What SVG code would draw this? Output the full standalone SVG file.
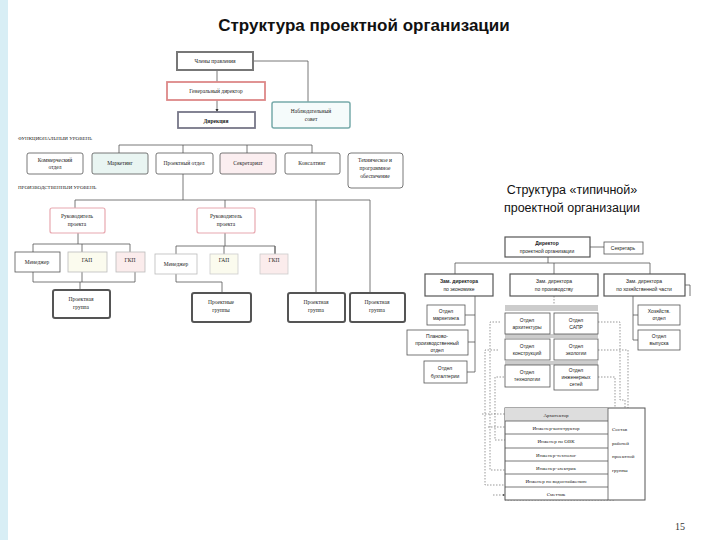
<svg xmlns="http://www.w3.org/2000/svg" width="720" height="540" viewBox="0 0 720 540">
<defs>
<style>
.t{font-family:"Liberation Serif",serif;font-size:5.5px;fill:#222;text-anchor:middle}
.s{font-family:"Liberation Sans",sans-serif;font-size:5px;fill:#222;text-anchor:middle}
.b{fill:#fff;stroke:#555;stroke-width:0.8}
.bt{fill:#fff;stroke:#555;stroke-width:2}
.l{fill:none;stroke:#555;stroke-width:0.8}
.d{fill:none;stroke:#555;stroke-width:0.6;stroke-dasharray:1.5 1.5}
.h{font-family:"Liberation Serif",serif;font-size:5px;fill:#222}
</style>
<marker id="a" viewBox="0 0 6 6" refX="6" refY="3" markerWidth="4" markerHeight="4" orient="auto"><path d="M0,0L6,3L0,6z" fill="#333"/></marker>
</defs>
<rect width="720" height="540" fill="#fff"/>
<rect x="0" y="0" width="8" height="540" fill="#d8eef5"/>
<text x="364" y="31" font-family="Liberation Sans,sans-serif" font-size="17" font-weight="bold" text-anchor="middle" fill="#111">Структура проектной организации</text>
<text x="572" y="194" font-family="Liberation Sans,sans-serif" font-size="12.5" text-anchor="middle" fill="#111">Структура «типичной»</text>
<text x="572" y="212" font-family="Liberation Sans,sans-serif" font-size="12.5" text-anchor="middle" fill="#111">проектной организации</text>
<text x="680" y="530" font-family="Liberation Serif,serif" font-size="10" text-anchor="middle" fill="#333">15</text>
<text class="h" x="18" y="140">ФУНКЦИОНАЛЬНЫЙ УРОВЕНЬ</text>
<text class="h" x="18" y="189">ПРОИЗВОДСТВЕННЫЙ УРОВЕНЬ</text>
<g id="connectors">
<path class="l" d="M217,70V82M217,100V112" marker-end="url(#a)"/>
<path class="l" d="M253,61H308V102"/>
<path class="l" d="M119,153V145H312V153M183,145V153M247,145V153M183,174V200M75,208V200H370V293M225,200V208M316,200V293"/>
<path class="l" d="M78,233V244M33,252V244H130V252M82,244V252M33,272V282H135V272M82,272V282M80,282V290"/>
<path class="l" d="M225,233V246M176,254V246H275V254M224,246V254M176,274V282H222V294M275,246V254"/>
<path class="l" d="M590,247H604M548,257V263M455,274V263H650V274M554,263V274"/>
<path class="l" d="M493,285H475V372H467M475,315H465M475,342H468"/>
<path class="l" d="M685,285H690V296M633,296V340H638M633,315H638"/>
<path class="d" d="M554,296V305M500,322H490V470H505M498,350H485V485H505M504,377H495V440H505M598,322H620V400H625V408M598,350H628V455M598,377H615V500H505"/>
<path class="d" d="M482,414H505M488,427H505M493,495H505" marker-end="url(#a)"/>
</g>
<g id="n1"><rect class="bt" x="177" y="52" width="76" height="18" style="stroke:#777"/><text class="t" x="215" y="63">Члены правления</text></g>
<g id="n2"><rect class="b" x="167" y="82" width="98" height="18" style="stroke:#d88;stroke-width:1.8"/><text class="t" x="216" y="93">Генеральный директор</text></g>
<g id="n3"><rect class="b" x="178" y="112" width="77" height="16" style="stroke:#778;stroke-width:1.8"/><text class="t" x="216" y="123" font-weight="bold">Дирекция</text></g>
<g id="n4"><rect class="b" x="272" y="102" width="78" height="26" rx="2" style="stroke:#7aa;stroke-width:1.5;fill:#f5fbfb"/><text class="t" x="311" y="113">Наблюдательный</text><text class="t" x="311" y="121">совет</text></g>
<g id="f1"><rect class="b" x="27" y="153" width="56" height="21" rx="2"/><text class="t" x="55" y="162">Коммерческий</text><text class="t" x="55" y="169">отдел</text></g>
<g id="f2"><rect class="b" x="92" y="153" width="56" height="21" rx="2" style="fill:#e9f5f2"/><text class="t" x="120" y="165">Маркетинг</text></g>
<g id="f3"><rect class="b" x="156" y="153" width="57" height="21" rx="2"/><text class="t" x="184" y="165">Проектный отдел</text></g>
<g id="f4"><rect class="b" x="220" y="153" width="56" height="21" rx="2" style="fill:#fbeef0"/><text class="t" x="248" y="165">Секретариат</text></g>
<g id="f5"><rect class="b" x="285" y="153" width="55" height="21" rx="2"/><text class="t" x="312" y="165">Консалтинг</text></g>
<g id="f6"><rect class="b" x="348" y="153" width="55" height="35" rx="3"/><text class="t" x="375" y="162">Техническое и</text><text class="t" x="375" y="170">программное</text><text class="t" x="375" y="178">обеспечение</text></g>
<g id="r1"><rect class="b" x="50" y="208" width="55" height="25" rx="2" style="stroke:#e8a8b0;stroke-width:1.2"/><text class="t" x="77" y="218">Руководитель</text><text class="t" x="77" y="226">проекта</text></g>
<g id="r2"><rect class="b" x="197" y="208" width="58" height="25" rx="2" style="stroke:#e8a8b0;stroke-width:1.2"/><text class="t" x="226" y="218">Руководитель</text><text class="t" x="226" y="226">проекта</text></g>
<g id="m1"><rect class="b" x="15" y="252" width="45" height="20"/><text class="t" x="37" y="264">Менеджер</text></g>
<g id="g1"><rect class="b" x="68" y="252" width="39" height="20" style="fill:#fbfbee;stroke:#bbb"/><text class="t" x="87" y="262">ГАП</text></g>
<g id="k1"><rect class="b" x="116" y="252" width="29" height="20" style="fill:#fbecec;stroke:#bbb"/><text class="t" x="130" y="262">ГКП</text></g>
<g id="m2"><rect class="b" x="155" y="254" width="42" height="20" style="stroke:#bbb"/><text class="t" x="176" y="266">Менеджер</text></g>
<g id="g2"><rect class="b" x="210" y="254" width="28" height="20" style="fill:#fbfbee;stroke:#ccc"/><text class="t" x="224" y="262">ГАП</text></g>
<g id="k2"><rect class="b" x="260" y="254" width="28" height="20" style="fill:#fbecec;stroke:#ccc"/><text class="t" x="274" y="262">ГКП</text></g>
<g id="p1"><rect class="bt" x="53" y="290" width="57" height="28" rx="2"/><text class="t" x="81" y="301">Проектная</text><text class="t" x="81" y="309">группа</text></g>
<g id="p2"><rect class="bt" x="192" y="293" width="59" height="29" rx="2"/><text class="t" x="221" y="304">Проектные</text><text class="t" x="221" y="312">группы</text></g>
<g id="p3"><rect class="bt" x="288" y="293" width="57" height="29" rx="2"/><text class="t" x="316" y="304">Проектная</text><text class="t" x="316" y="312">группа</text></g>
<g id="p4"><rect class="bt" x="350" y="293" width="55" height="29" rx="2"/><text class="t" x="377" y="304">Проектная</text><text class="t" x="377" y="312">группа</text></g>
<g id="d0"><rect class="b" x="505" y="237" width="85" height="20" style="stroke-width:1.2"/><text class="s" x="547" y="245" font-weight="bold" font-size="6">Директор</text><text class="s" x="547" y="253">проектной организации</text></g>
<g id="sec"><rect class="b" x="604" y="242" width="39" height="12"/><text class="s" x="623" y="250">Секретарь</text></g>
<g id="z1"><rect class="b" x="425" y="274" width="68" height="22" style="stroke-width:1.2"/><text class="s" x="459" y="283" font-weight="bold" font-size="5.5">Зам. директора</text><text class="s" x="459" y="291">по экономике</text></g>
<g id="z2"><rect class="b" x="510" y="274" width="88" height="22" style="stroke-width:1.2"/><text class="s" x="554" y="283" font-size="5.5">Зам. директора</text><text class="s" x="554" y="291">по производству</text></g>
<g id="z3"><rect class="b" x="604" y="274" width="81" height="22" style="stroke-width:1.2"/><text class="s" x="644" y="283" font-size="5.5">Зам. директора</text><text class="s" x="644" y="291">по хозяйственной части</text></g>
<g id="e1"><rect class="b" x="427" y="305" width="38" height="20"/><text class="s" x="446" y="313">Отдел</text><text class="s" x="446" y="320">маркетинга</text></g>
<g id="e2"><rect class="b" x="407" y="330" width="61" height="25"/><text class="s" x="437" y="338">Планово-</text><text class="s" x="437" y="345">производственный</text><text class="s" x="437" y="352">отдел</text></g>
<g id="e3"><rect class="b" x="424" y="361" width="43" height="22"/><text class="s" x="445" y="370">Отдел</text><text class="s" x="445" y="378">бухгалтерии</text></g>
<rect x="505" y="305" width="93" height="6" fill="#ccc"/>
<rect x="505" y="334" width="93" height="4" fill="#ccc"/>
<rect x="505" y="361" width="93" height="4" fill="#ccc"/>
<g id="o1"><rect class="b" x="505" y="313" width="45" height="21"/><text class="s" x="527" y="322">Отдел</text><text class="s" x="527" y="329">архитектуры</text></g>
<g id="o2"><rect class="b" x="554" y="313" width="44" height="21"/><text class="s" x="576" y="322">Отдел</text><text class="s" x="576" y="329">САПР</text></g>
<g id="o3"><rect class="b" x="505" y="339" width="45" height="21"/><text class="s" x="527" y="348">Отдел</text><text class="s" x="527" y="355">конструкций</text></g>
<g id="o4"><rect class="b" x="554" y="339" width="44" height="21"/><text class="s" x="576" y="348">Отдел</text><text class="s" x="576" y="355">экологии</text></g>
<g id="o5"><rect class="b" x="505" y="365" width="45" height="22"/><text class="s" x="527" y="374">Отдел</text><text class="s" x="527" y="381">технологии</text></g>
<g id="o6"><rect class="b" x="554" y="365" width="44" height="25"/><text class="s" x="576" y="372">Отдел</text><text class="s" x="576" y="379">инженерных</text><text class="s" x="576" y="386">сетей</text></g>
<g id="x1"><rect class="b" x="638" y="305" width="42" height="20"/><text class="s" x="659" y="313">Хозяйств.</text><text class="s" x="659" y="320">отдел</text></g>
<g id="x2"><rect class="b" x="638" y="330" width="42" height="20"/><text class="s" x="659" y="338">Отдел</text><text class="s" x="659" y="345">выпуска</text></g>
<g id="team">
<rect class="b" x="505" y="408" width="140" height="92" style="stroke-width:1"/>
<rect x="505" y="408" width="103" height="13" fill="#ddd"/>
<path class="l" d="M608,408V500M505,421H608M505,434H608M505,448H608M505,461H608M505,474H608M505,487H608"/>
<g class="h" text-anchor="middle" font-size="4.8">
<text x="556" y="417">Архитектор</text><text x="556" y="430">Инженер-конструктор</text><text x="556" y="443">Инженер по ОВК</text><text x="556" y="457">Инженер-технолог</text><text x="556" y="470">Инженер-электрик</text><text x="556" y="483">Инженер по водоснабжению</text><text x="556" y="496">Сметчик</text>
</g>
<g class="h" font-size="5"><text x="612" y="431">Состав</text><text x="612" y="445">рабочей</text><text x="612" y="458">проектной</text><text x="612" y="472">группы</text></g>
</g>
</svg>
